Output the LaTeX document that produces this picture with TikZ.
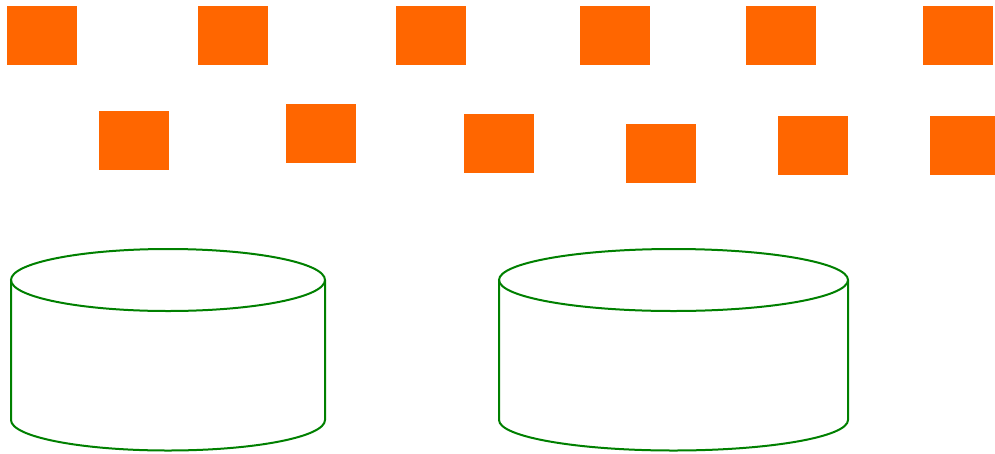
\documentclass[tikz,border=0pt]{standalone}
\definecolor{boxorange}{HTML}{FF6600}
\definecolor{cylgreen}{HTML}{008000}
\begin{document}
\begin{tikzpicture}[x=1pt,y=-1pt,
  obox/.style={fill=boxorange,draw=none,inner sep=0pt,anchor=north west,minimum width=70pt,minimum height=58.5pt},
  cyl/.style={draw=cylgreen,line width=2pt}]
\useasboundingbox (0,0) rectangle (995,453);
% top row
\node[obox] (a1) at (7,6) {};
\node[obox] (a2) at (198,6) {};
\node[obox] (a3) at (396,6) {};
\node[obox] (a4) at (580,6) {};
\node[obox] (a5) at (746,6) {};
\node[obox] (a6) at (923,6) {};
% second row
\node[obox] (b1) at (99,111) {};
\node[obox] (b2) at (286,104) {};
\node[obox] (b3) at (464,114) {};
\node[obox] (b4) at (626,124) {};
\node[obox] (b5) at (778,116) {};
\node[obox,minimum width=65pt] (b6) at (930,116) {};
% cylinders
\draw[cyl] (168,280) ellipse [x radius=157, y radius=31];
\draw[cyl] (11,280) -- (11,420) arc [start angle=180, end angle=0, x radius=157, y radius=30.5] -- (325,280);
\draw[cyl] (673.5,280) ellipse [x radius=174.5, y radius=31];
\draw[cyl] (499,280) -- (499,420) arc [start angle=180, end angle=0, x radius=174.5, y radius=30.5] -- (848,280);
\end{tikzpicture}
\end{document}
